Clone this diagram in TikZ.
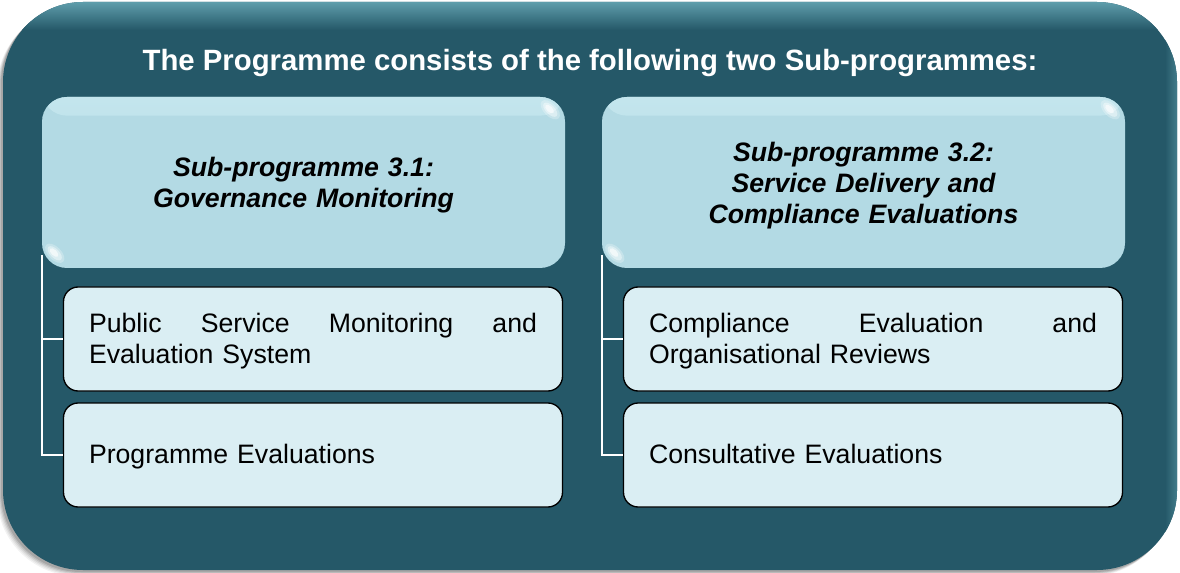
\documentclass[tikz,border=0pt]{standalone}
\usepackage{fontspec}
\setmainfont{Liberation Sans}
\usetikzlibrary{calc}
\definecolor{panel}{HTML}{255868}
\definecolor{panelhi}{HTML}{62A2B0}
\definecolor{headfill}{HTML}{B3DAE4}
\definecolor{headhi}{HTML}{C3E5ED}
\definecolor{itemfill}{HTML}{DAEEF3}
% struts that fix the vertical placement of the text inside the boxes
\newcommand{\headtop}{\rule{0pt}{20pt}}
\newcommand{\headbot}{\rule[-5pt]{0pt}{5pt}}
\newcommand{\itemtop}{\rule{0pt}{18.5pt}}
\newcommand{\itembot}{\rule[-5.5pt]{0pt}{5.5pt}}
\begin{document}
\begin{tikzpicture}[x=0.75pt,y=-0.75pt,
  headbox/.style={rounded corners=18.75pt, fill=headfill,
    minimum width=392.25pt, minimum height=128.25pt, text width=380pt, align=center,
    font=\fontsize{20}{23.25}\selectfont\bfseries\itshape, text=black,
    execute at begin node=\headtop, execute at end node=\headbot,
    path picture={\shade[top color=headhi, bottom color=headfill]
      (path picture bounding box.north west) rectangle
      ([yshift=-14pt]path picture bounding box.north east);}},
  itembox/.style={draw=black, line width=1pt, rounded corners=11pt, fill=itemfill,
    minimum width=374.25pt, minimum height=78pt, text width=336pt, align=left,
    font=\fontsize{20}{23.25}\selectfont, text=black,
    execute at begin node=\itemtop, execute at end node=\itembot},
  conn/.style={white, line width=1.5pt}]
\useasboundingbox (0,0) rectangle (1180,573);

% soft drop shadow of the panel
\foreach \o/\a in {6/0.05,5/0.06,4/0.08,3/0.1,2/0.12}
  \fill[black, opacity=\a, rounded corners=60pt] (3-\o,2+\o) rectangle (1177-\o,570+\o);

% main panel with a lit top rim
\begin{scope}
  \clip[rounded corners=60pt] (3,2) rectangle (1177,570);
  \fill[panel] (0,0) rectangle (1180,573);
  \shade[top color=panelhi, bottom color=panel] (0,0) rectangle (1180,30);
  \shade[left color=panel, right color=panelhi!60!panel] (1165,0) rectangle (1180,573);
\end{scope}

\node[font=\fontsize{22}{26}\selectfont\bfseries, text=white, anchor=base] (title)
  at (590,71) {The Programme consists of the following two Sub-programmes:};

% sub-programme headers
\node[headbox] (h1) at (303.5,182.5) {Sub-programme 3.1:\\Governance Monitoring};
\node[headbox] (h2) at (863.5,182.5) {Sub-programme 3.2:\\Service Delivery and\\Compliance Evaluations};

% glossy highlights on two corners of each header
\coordinate (g1a) at ($(h1.north east)+(-15,13)$);
\coordinate (g1b) at ($(h1.south west)+(13,-15)$);
\coordinate (g2a) at ($(h2.north east)+(-15,13)$);
\coordinate (g2b) at ($(h2.south west)+(13,-15)$);
\foreach \g in {g1a,g1b,g2a,g2b}{
  \begin{scope}[shift={(\g)}, rotate=-45]
    \fill[white, opacity=0.25] (0,0) ellipse[x radius=12, y radius=6.5];
    \fill[white, opacity=0.4] (0,0) ellipse[x radius=9, y radius=4.5];
    \fill[white, opacity=0.6] (-1,0) ellipse[x radius=5.5, y radius=2.8];
  \end{scope}
}

% components
\node[itembox] (c11) at (313,339) {Public\hfill Service\hfill Monitoring\hfill and\\Evaluation System};
\node[itembox] (c12) at (313,455) {Programme Evaluations};
\node[itembox] (c21) at (873,339) {Compliance\hfill Evaluation\hfill and\\Organisational Reviews};
\node[itembox] (c22) at (873,455) {Consultative Evaluations};

% tree connectors
\draw[conn] ($(h1.south west)+(0,-13)$) |- (c12.west);
\draw[conn] (h1.south west |- c11.west) -- (c11.west);
\draw[conn] ($(h2.south west)+(0,-13)$) |- (c22.west);
\draw[conn] (h2.south west |- c21.west) -- (c21.west);
\end{tikzpicture}
\end{document}
